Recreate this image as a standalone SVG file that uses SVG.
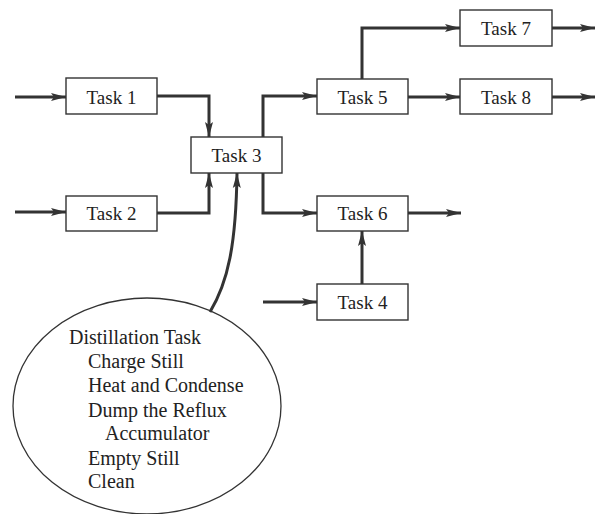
<svg xmlns="http://www.w3.org/2000/svg" width="595" height="514" viewBox="0 0 595 514">
<style>
.box{fill:#fff;stroke:#333;stroke-width:1.4}
.lbl{font-family:"Liberation Serif",serif;font-size:19px;fill:#222;text-anchor:middle}
.el{font-family:"Liberation Serif",serif;font-size:20px;fill:#222}
.con{fill:none;stroke:#333;stroke-width:3;marker-end:url(#ah)}
</style>
<defs>
<marker id="ah" markerUnits="userSpaceOnUse" markerWidth="16" markerHeight="10" refX="15" refY="5" orient="auto">
<path d="M0,1 L15,5 L0,9 L3,5 Z" fill="#333"/>
</marker>
</defs>
<rect width="595" height="514" fill="#fff"/>
<g id="connectors">
<path class="con" d="M15,97 H66"/>
<path class="con" d="M15,212 H66"/>
<path class="con" d="M157,96 H209 V137"/>
<path class="con" d="M157,213 H209 V173"/>
<path class="con" d="M210,312 C228,282 236,245 237,173"/>
<path class="con" d="M263,137 V96 H317"/>
<path class="con" d="M263,173 V213 H317"/>
<path class="con" d="M362,79 V28 H460"/>
<path class="con" d="M408,97 H460"/>
<path class="con" d="M552,28 H595"/>
<path class="con" d="M552,97 H595"/>
<path class="con" d="M408,213 H461"/>
<path class="con" d="M362,284 V231"/>
<path class="con" d="M263,302 H317"/>
</g>
<g id="task1"><rect class="box" x="66" y="78" width="91" height="36"/><text class="lbl" x="111.5" y="104">Task 1</text></g>
<g id="task2"><rect class="box" x="66" y="196" width="91" height="35"/><text class="lbl" x="111.5" y="220">Task 2</text></g>
<g id="task3"><rect class="box" x="191" y="137" width="91" height="36"/><text class="lbl" x="236.5" y="162">Task 3</text></g>
<g id="task5"><rect class="box" x="317" y="79" width="91" height="35"/><text class="lbl" x="362.5" y="104">Task 5</text></g>
<g id="task6"><rect class="box" x="317" y="196" width="91" height="35"/><text class="lbl" x="362.5" y="220">Task 6</text></g>
<g id="task4"><rect class="box" x="317" y="284" width="91" height="36"/><text class="lbl" x="362.5" y="309">Task 4</text></g>
<g id="task7"><rect class="box" x="460" y="10" width="92" height="36"/><text class="lbl" x="506" y="35">Task 7</text></g>
<g id="task8"><rect class="box" x="460" y="79" width="92" height="35"/><text class="lbl" x="506" y="104">Task 8</text></g>
<g id="distillation">
<ellipse cx="147" cy="406" rx="134" ry="108" fill="none" stroke="#333" stroke-width="1.3"/>
<text class="el" x="69" y="344">Distillation Task</text>
<text class="el" x="88" y="368">Charge Still</text>
<text class="el" x="88" y="392">Heat and Condense</text>
<text class="el" x="88" y="417">Dump the Reflux</text>
<text class="el" x="105" y="440">Accumulator</text>
<text class="el" x="88" y="465">Empty Still</text>
<text class="el" x="88" y="488">Clean</text>
</g>
</svg>
